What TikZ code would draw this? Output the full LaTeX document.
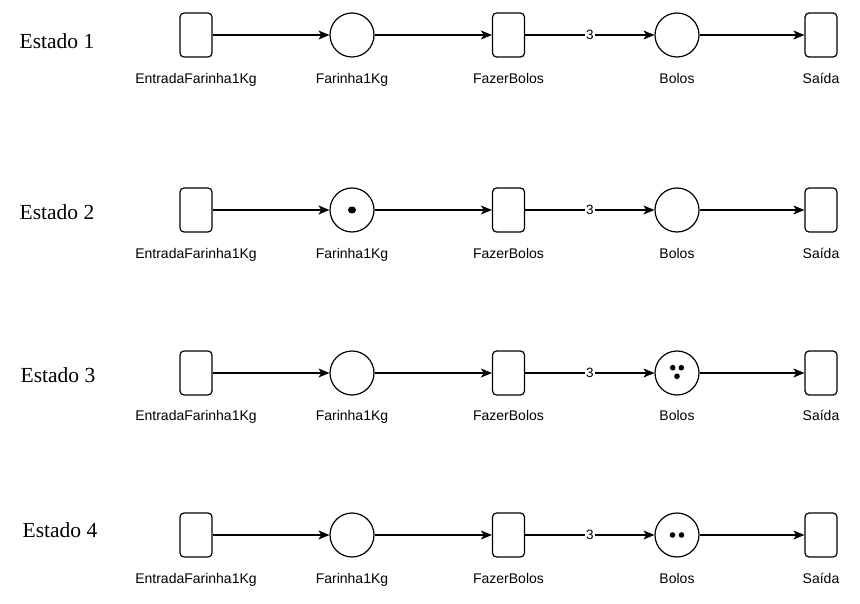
\documentclass[tikz,border=0pt]{standalone}
\usepackage{fontspec}
\setmainfont{Liberation Serif}
\setsansfont{Liberation Sans}
\usetikzlibrary{arrows.meta}

\begin{document}
\begin{tikzpicture}[x=1pt, y=-1pt,
  trans/.style={draw, line width=1.2pt, rounded corners=4pt, minimum width=32pt, minimum height=44pt, inner sep=0pt},
  place/.style={draw, circle, line width=1.2pt, minimum size=44pt, inner sep=0pt},
  lbl/.style={font=\sffamily\fontsize{14}{16}\selectfont, inner sep=0pt, text height=12pt, text depth=1pt},
  estado/.style={font=\fontsize{21.5}{24}\selectfont, inner sep=0pt},
  arc/.style={line width=1.2pt, -{Stealth[length=11pt, width=9pt, inset=3pt]}},
  peso/.style={fill=white, inner sep=1.5pt, font=\sffamily\fontsize{13.5}{15}\selectfont}]
  \useasboundingbox (0,0) rectangle (860,604);

  % Estado 1
  \node[estado] (st1) at (57,41) {Estado 1};
  \node[trans] (e1) at (196,35) {};
  \node[place] (f1) at (352,35) {};
  \node[trans] (z1) at (508.5,35) {};
  \node[place] (b1) at (677,35) {};
  \node[trans] (s1) at (821,35) {};
  \node[lbl] (le1) at (196,78) {EntradaFarinha1Kg};
  \node[lbl] (lf1) at (352,78) {Farinha1Kg};
  \node[lbl] (lz1) at (508.5,78) {FazerBolos};
  \node[lbl] (lb1) at (677,78) {Bolos};
  \node[lbl] (ls1) at (821,78) {Saída};
  \draw[arc] (e1) -- (f1);
  \draw[arc] (f1) -- (z1);
  \draw[arc] (z1) -- node[peso] {3} (b1);
  \draw[arc] (b1) -- (s1);

  % Estado 2
  \node[estado] (st2) at (57,212) {Estado 2};
  \node[trans] (e2) at (196,210) {};
  \node[place] (f2) at (352,210) {};
  \node[trans] (z2) at (508.5,210) {};
  \node[place] (b2) at (677,210) {};
  \node[trans] (s2) at (821,210) {};
  \node[lbl] (le2) at (196,253) {EntradaFarinha1Kg};
  \node[lbl] (lf2) at (352,253) {Farinha1Kg};
  \node[lbl] (lz2) at (508.5,253) {FazerBolos};
  \node[lbl] (lb2) at (677,253) {Bolos};
  \node[lbl] (ls2) at (821,253) {Saída};
  \draw[arc] (e2) -- (f2);
  \draw[arc] (f2) -- (z2);
  \draw[arc] (z2) -- node[peso] {3} (b2);
  \draw[arc] (b2) -- (s2);
  \fill (f2.center) ellipse (4 and 3.5);

  % Estado 3
  \node[estado] (st3) at (58,375) {Estado 3};
  \node[trans] (e3) at (196,373) {};
  \node[place] (f3) at (352,373) {};
  \node[trans] (z3) at (508.5,373) {};
  \node[place] (b3) at (677,373) {};
  \node[trans] (s3) at (821,373) {};
  \node[lbl] (le3) at (196,415) {EntradaFarinha1Kg};
  \node[lbl] (lf3) at (352,415) {Farinha1Kg};
  \node[lbl] (lz3) at (508.5,415) {FazerBolos};
  \node[lbl] (lb3) at (677,415) {Bolos};
  \node[lbl] (ls3) at (821,415) {Saída};
  \draw[arc] (e3) -- (f3);
  \draw[arc] (f3) -- (z3);
  \draw[arc] (z3) -- node[peso] {3} (b3);
  \draw[arc] (b3) -- (s3);
  \fill ([shift={(-4.3,-5.3)}]b3.center) circle (2.8);
  \fill ([shift={(4.3,-5.3)}]b3.center) circle (2.8);
  \fill ([shift={(0,3.3)}]b3.center) circle (2.8);

  % Estado 4
  \node[estado] (st4) at (60,530) {Estado 4};
  \node[trans] (e4) at (196,535) {};
  \node[place] (f4) at (352,535) {};
  \node[trans] (z4) at (508.5,535) {};
  \node[place] (b4) at (677,535) {};
  \node[trans] (s4) at (821,535) {};
  \node[lbl] (le4) at (196,578) {EntradaFarinha1Kg};
  \node[lbl] (lf4) at (352,578) {Farinha1Kg};
  \node[lbl] (lz4) at (508.5,578) {FazerBolos};
  \node[lbl] (lb4) at (677,578) {Bolos};
  \node[lbl] (ls4) at (821,578) {Saída};
  \draw[arc] (e4) -- (f4);
  \draw[arc] (f4) -- (z4);
  \draw[arc] (z4) -- node[peso] {3} (b4);
  \draw[arc] (b4) -- (s4);
  \fill ([shift={(-4.5,0)}]b4.center) circle (2.8);
  \fill ([shift={(4.5,0)}]b4.center) circle (2.8);
\end{tikzpicture}
\end{document}
